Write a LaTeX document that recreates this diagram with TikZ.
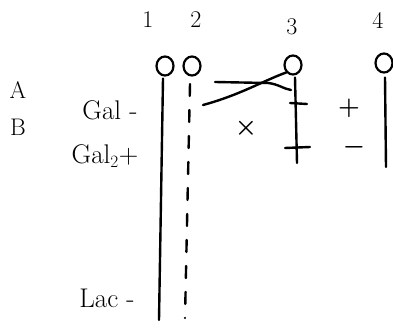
\documentclass[tikz,border=0pt]{standalone}
\usepackage{fontspec}
\usetikzlibrary{calc}
\tikzset{
  pen/.style={line width=2.4pt, line cap=round, line join=round},
  ring/.style={ellipse, draw, line width=2.2pt, minimum width=17pt, minimum height=19pt, inner sep=0pt},
  lbl/.style={font=\fontsize{24}{28}\selectfont, inner sep=0pt},
  word/.style={font=\fontsize{27}{31}\selectfont, inner sep=0pt},
  sign/.style={font=\fontsize{32}{36}\selectfont\boldmath, inner sep=0pt},
  dashpen/.style={pen, dash pattern=on 12pt off 14pt}
}
\usetikzlibrary{shapes.geometric}
\begin{document}
\begin{tikzpicture}[x=1pt,y=-1pt]
\useasboundingbox (0,0) rectangle (393,331);
% column numbers
\node[lbl] (n1) at (148,20) {1};
\node[lbl] (n2) at (196,20) {2};
\node[lbl] (n3) at (292,27) {3};
\node[lbl] (n4) at (378,20) {4};
% row labels
\node[lbl] (rA) at (18,90) {A};
\node[lbl] (rB) at (18,127) {B};
\node[word] (g1) at (110,110) {Gal -};
\node[word] (g2) at (105,156) {Gal$_2$+};
\node[word] (g3) at (107,298) {Lac -};
% circles
\node[ring] (c1) at (165,66) {};
\node[ring] (c2) at (192,66) {};
\node[ring] (c3) at (293,65) {};
\node[ring] (c4) at (384,63) {};
% lines
\coordinate (e1) at (159,320);
\coordinate (s2) at (190,84);
\coordinate (e2) at (185,318);
\coordinate (e3) at (297,163);
\coordinate (e4) at (386,167);
\draw[pen] (c1.south) ++(-2,2) -- (e1);
\draw[dashpen] (s2) -- (e2);
\draw[pen] (c3.south) ++(2,2) -- (e3);
\draw[pen] (c4.south) ++(1,4) -- (e4);
% crossing lines
\coordinate (a0) at (215,82);
\coordinate (a1) at (268,83);
\coordinate (a2) at (291,90);
\coordinate (b0) at (203,105);
\draw[pen] (a0) -- (a1) .. controls (278,84) and (284,89) .. (a2);
\draw[pen] (b0) .. controls (240,95) and (265,80) .. (c3.south west);
% ticks on line 3
\coordinate (t1a) at (290,103);
\coordinate (t1b) at (307,104);
\coordinate (t2a) at (285,148);
\coordinate (t2b) at (310,147);
\draw[pen] (t1a) -- (t1b);
\draw[pen] (t2a) -- (t2b);
% signs
\node[sign] (plus) at (349,108) {$+$};
\node[sign] (minus) at (354,147) {$-$};
\node[sign] (cross) at (246,128) {$\times$};
\end{tikzpicture}
\end{document}
